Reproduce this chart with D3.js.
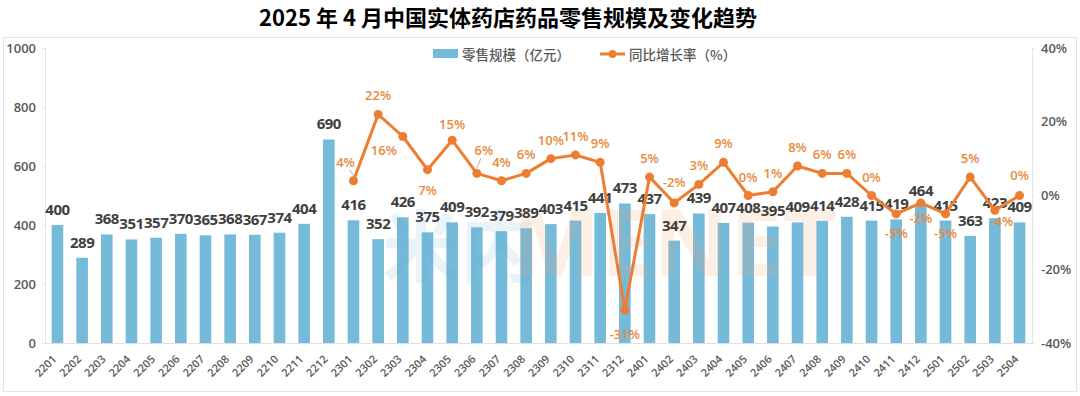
<!DOCTYPE html>
<html>
<head>
<meta charset="utf-8">
<script src="https://cdn.jsdelivr.net/npm/d3@7"></script>
<style>
  body { margin: 0; background: #fff; }
  svg { display: block; font-family: "Open Sans", "Noto Sans CJK SC", sans-serif; }
</style>
</head>
<body>
<svg width="1080" height="396"></svg>
<script>
// data
const months = ["2201","2202","2203","2204","2205","2206","2207","2208","2209","2210","2211","2212",
  "2301","2302","2303","2304","2305","2306","2307","2308","2309","2310","2311","2312",
  "2401","2402","2403","2404","2405","2406","2407","2408","2409","2410","2411","2412",
  "2501","2502","2503","2504"];
const sales = [400,289,368,351,357,370,365,368,367,374,404,690,
  416,352,426,375,409,392,379,389,403,415,441,473,
  437,347,439,407,408,395,409,414,428,415,419,464,
  415,363,423,409];
const yoyMonths = months.slice(12);
const yoy = [4,22,16,7,15,6,4,6,10,11,9,-31,
  5,-2,3,9,0,1,8,6,6,0,-5,-2,
  -5,5,-4,0];
const leftTicks = [0,200,400,600,800,1000];
const rightTicks = [-40,-20,0,20,40];

// label offsets for the percentage labels (default: above)
const pctOffset = {
  "2301":[-8,-19], "2303":[-19,13], "2304":[0,20], "2305":[0,-16], "2306":[7,-23],
  "2312":[0,24], "2402":[0,-21], "2411":[0,19], "2412":[0,15], "2501":[0,19],
  "2503":[7,11], "2504":[0,-21]
};

const svg = d3.select("svg");
const pLeft = 45, pRight = 1032, pTop = 48, pBottom = 343;

const x = d3.scaleBand().domain(months).range([pLeft, pRight]).paddingInner(0.53).paddingOuter(0.27);
const yL = d3.scaleLinear().domain([0,1000]).range([pBottom, pTop]);
const yR = d3.scaleLinear().domain([-40,40]).range([pBottom, pTop]);
const cx = m => x(m) + x.bandwidth() / 2;

// frame
svg.append("rect").attr("x", 3.5).attr("y", 37.5).attr("width", 1073).attr("height", 354)
  .attr("fill", "none").attr("stroke", "#e3e3e3");

// title
svg.append("text").attr("x", 508).attr("y", 25.5).attr("text-anchor", "middle")
  .attr("font-family", "'Noto Sans CJK SC', sans-serif")
  .attr("font-weight", 700).attr("font-size", 22).attr("fill", "#000")
  .text("2025 年 4 月中国实体药店药品零售规模及变化趋势");

// axes
const gl = svg.append("g").attr("transform", `translate(${pLeft},0)`)
  .call(d3.axisLeft(yL).tickValues(leftTicks).tickSize(3).tickPadding(6).tickFormat(d3.format("d")));
gl.select(".domain").attr("stroke", "#e6e6e6");
gl.selectAll(".tick line").attr("stroke", "#e6e6e6");
gl.selectAll("text").attr("font-size", 13).attr("font-weight", 600).attr("fill", "#595959")
  .attr("font-family", "'Open Sans', sans-serif");

const gr = svg.append("g").attr("transform", `translate(${pRight},0)`)
  .call(d3.axisRight(yR).tickValues(rightTicks).tickSize(3).tickPadding(6).tickFormat(d => d + "%"));
gr.select(".domain").attr("stroke", "#e6e6e6");
gr.selectAll(".tick line").attr("stroke", "#e6e6e6");
gr.selectAll("text").attr("font-size", 13).attr("font-weight", 600).attr("fill", "#595959")
  .attr("font-family", "'Open Sans', sans-serif");

svg.append("line").attr("x1", pLeft).attr("x2", pRight).attr("y1", pBottom + 0.5).attr("y2", pBottom + 0.5)
  .attr("stroke", "#e0e0e0");

// x tick labels
svg.append("g").selectAll("text").data(months).join("text")
  .attr("transform", d => `translate(${cx(d) - 3},357) rotate(-45)`)
  .attr("text-anchor", "end").attr("dy", "0.35em")
  .attr("font-size", 11).attr("font-weight", 600).attr("fill", "#595959")
  .text(d => d);

// bars
svg.append("g").selectAll("rect").data(months).join("rect")
  .attr("x", d => x(d)).attr("width", x.bandwidth())
  .attr("y", (d, i) => yL(sales[i])).attr("height", (d, i) => pBottom - yL(sales[i]))
  .attr("fill", "#76BADA");

// watermark
svg.append("text").attr("x", 382).attr("y", 276).attr("font-size", 78).attr("font-weight", 700)
  .attr("font-family", "'Noto Sans CJK SC', sans-serif")
  .attr("fill", "#5aa9cf").attr("opacity", 0.13).text("米内");
svg.append("text").attr("x", 512).attr("y", 276).attr("font-size", 94).attr("font-weight", 700)
  .attr("font-family", "'Open Sans', sans-serif")
  .attr("fill", "#f0a468").attr("opacity", 0.16).text("MENET");

// bar labels
svg.append("g").selectAll("text").data(months).join("text")
  .attr("x", d => cx(d)).attr("y", (d, i) => yL(sales[i]) - 10)
  .attr("text-anchor", "middle").attr("font-size", 15).attr("font-weight", 700)
  .attr("fill", "#404040").attr("letter-spacing", -0.5)
  .text((d, i) => sales[i]);

// line
const line = d3.line().x(d => cx(d.m)).y(d => yR(d.v));
const pts = yoyMonths.map((m, i) => ({ m, v: yoy[i] }));
svg.append("path").datum(pts).attr("d", line).attr("fill", "none")
  .attr("stroke", "#ED7D31").attr("stroke-width", 3).attr("stroke-linejoin", "round");
svg.append("g").selectAll("circle").data(pts).join("circle")
  .attr("cx", d => cx(d.m)).attr("cy", d => yR(d.v)).attr("r", 4.5).attr("fill", "#ED7D31");

// pct labels
svg.append("g").selectAll("text").data(pts).join("text")
  .attr("x", d => cx(d.m) + (pctOffset[d.m] ? pctOffset[d.m][0] : 0))
  .attr("y", d => yR(d.v) + (pctOffset[d.m] ? pctOffset[d.m][1] : -19))
  .attr("dominant-baseline", "central").attr("text-anchor", "middle")
  .attr("font-size", 13).attr("font-weight", 600).attr("fill", "#E8893B")
  .text(d => d.v + "%");

// leader lines for a couple of labels
[["2301", -4, -11, 1, -4], ["2306", 4, -15, 0, -5]].forEach(([m, x1, y1, x2, y2]) => {
  const i = yoyMonths.indexOf(m);
  svg.append("line").attr("x1", cx(m) + x1).attr("y1", yR(yoy[i]) + y1)
    .attr("x2", cx(m) + x2).attr("y2", yR(yoy[i]) + y2).attr("stroke", "#a6b3c4").attr("stroke-width", 1);
});

// legend
const lg = svg.append("g");
lg.append("rect").attr("x", 433).attr("y", 49).attr("width", 25).attr("height", 9).attr("fill", "#76BADA");
lg.append("text").attr("x", 462).attr("y", 54).attr("dominant-baseline", "central")
  .attr("font-family", "'Noto Sans CJK SC', sans-serif")
  .attr("font-size", 13.5).attr("font-weight", 500).attr("fill", "#595959").text("零售规模（亿元）");
lg.append("line").attr("x1", 600).attr("x2", 625).attr("y1", 54).attr("y2", 54)
  .attr("stroke", "#ED7D31").attr("stroke-width", 3);
lg.append("circle").attr("cx", 612.5).attr("cy", 54).attr("r", 4).attr("fill", "#ED7D31");
lg.append("text").attr("x", 629).attr("y", 54).attr("dominant-baseline", "central")
  .attr("font-family", "'Noto Sans CJK SC', sans-serif")
  .attr("font-size", 13.5).attr("font-weight", 500).attr("fill", "#595959").text("同比增长率（%）");
</script>
</body>
</html>
